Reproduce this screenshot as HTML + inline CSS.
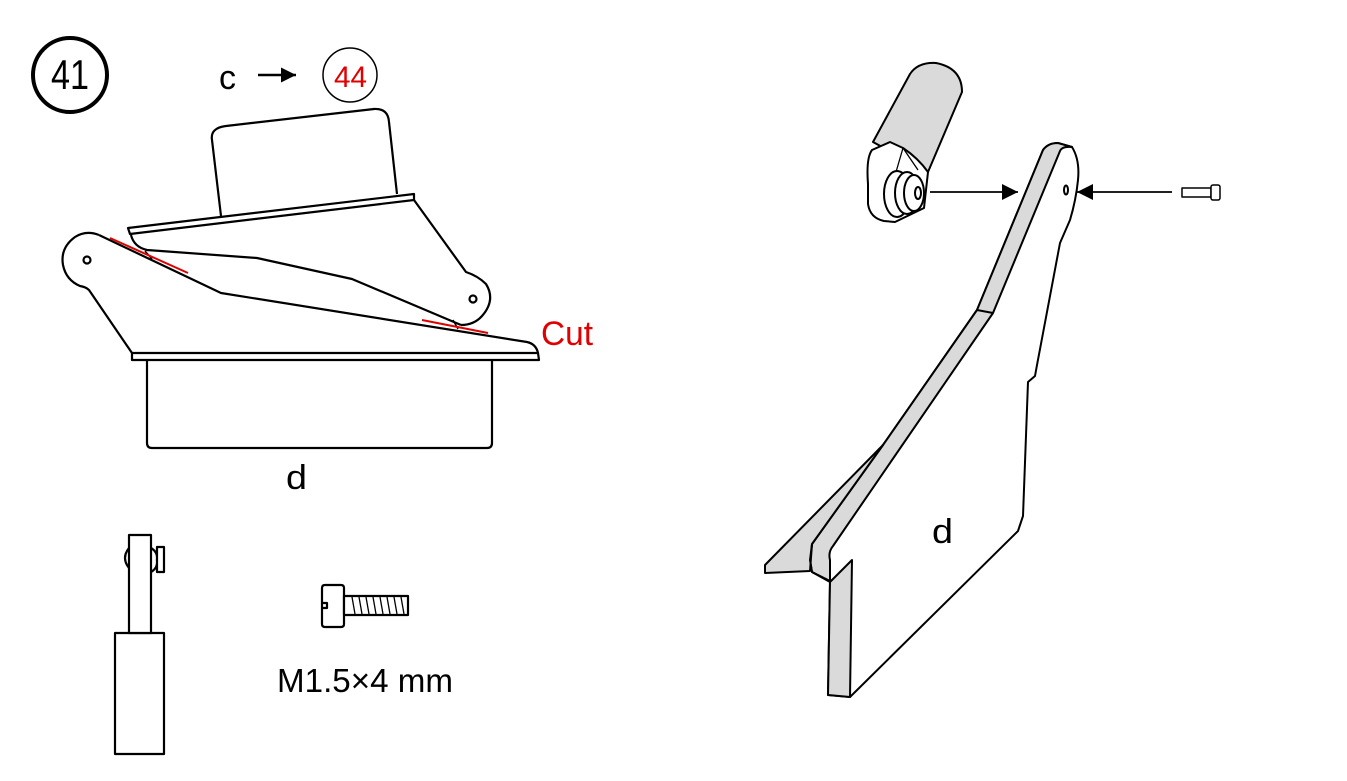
<!DOCTYPE html>
<html><head><meta charset="utf-8"><style>
html,body{margin:0;padding:0;background:#fff;}
svg{display:block;}
text{font-family:"Liberation Sans",sans-serif;}
</style></head><body>
<svg width="1347" height="781" viewBox="0 0 1347 781" xmlns="http://www.w3.org/2000/svg">
<defs>
<marker id="ah" viewBox="0 0 10 10" refX="10" refY="5" markerWidth="15" markerHeight="15" markerUnits="userSpaceOnUse" orient="auto"><path d="M0,0 L10,5 L0,10 z" fill="#000"/></marker>
<marker id="ah2" viewBox="0 0 10 10" refX="10" refY="5" markerWidth="16" markerHeight="16" markerUnits="userSpaceOnUse" orient="auto"><path d="M0,0 L10,5 L0,10 z" fill="#000"/></marker>
</defs>
<g fill="none" stroke="#000" stroke-width="2.2" stroke-linejoin="round">
<!-- header -->
<circle cx="70" cy="75" r="37" stroke-width="4"/>
<circle cx="350" cy="75" r="27" stroke-width="1.5"/>
<line x1="258" y1="75" x2="296" y2="75" marker-end="url(#ah)" stroke-width="2.5"/>

<!-- left assembly -->
<path d="M221,216 L212,140 Q210,128 226,126 L374,109 Q388,108 389,122 L397,194" fill="#fff"/>
<path d="M128,228 L414,194 L414,200 L130,234 Z" fill="#fff"/>
<path d="M414,200 L466,272 Q478,276 486,284 Q496,300 482,316 Q474,325 461,325"/>
<circle cx="473" cy="299" r="3.5"/>
<path d="M131,235 Q134,247 147,250 L257,258 L352,279 L461,325"/>
<path d="M99,235 Q86,230 75,237 Q60,248 63,265 Q66,280 80,286 Q86,287 89,290 L132,353"/>
<circle cx="87" cy="260" r="3.5"/>
<path d="M99,235 L221,293 L527,342 Q536,344 538,353"/>
<path d="M132,353 L538,353 L539,360 L132,360 Z" fill="#fff"/>
<path d="M147,360 L147,443 Q147,448 152,448 L487,448 Q492,448 492,443 L492,360"/>
<line x1="145" y1="251" x2="152" y2="259" stroke-width="1.5"/>
<line x1="453" y1="320" x2="458" y2="329" stroke-width="1.5"/>
<g stroke="#e00000" stroke-width="2">
<line x1="110" y1="238" x2="188" y2="273"/>
<line x1="422" y1="320" x2="488" y2="333"/>
</g>

<!-- servo bottom left -->
<rect x="115" y="633" width="49" height="121" fill="#fff"/>
<rect x="129" y="535" width="22" height="98" fill="#fff"/>
<path d="M129,548 Q121,558 129,568"/>
<path d="M151,548 Q158,552 157,560 Q158,568 151,572"/>
<rect x="157" y="547" width="7" height="25" fill="#fff"/>
<!-- screw -->
<path d="M325,585 L341,585 Q344,585 344,588 L344,624 Q344,627 341,627 L325,627 Q322,627 322,624 L322,588 Q322,585 325,585 Z" fill="#fff"/>
<path d="M322,603 L327,603 L327,608 L322,608"/>
<rect x="344" y="596" width="64" height="19" fill="#fff"/>
<g stroke-width="1.3">
<line x1="352" y1="597" x2="355" y2="614"/><line x1="359" y1="597" x2="362" y2="614"/><line x1="366" y1="597" x2="369" y2="614"/><line x1="373" y1="597" x2="376" y2="614"/><line x1="380" y1="597" x2="383" y2="614"/><line x1="387" y1="597" x2="390" y2="614"/><line x1="394" y1="597" x2="397" y2="614"/><line x1="401" y1="597" x2="404" y2="614"/>
</g>
</g>

<g fill="none" stroke="#000" stroke-width="2" stroke-linejoin="round">
<!-- right: cylinder -->
<path d="M873,142 L910,74 Q918,62 936,63 Q962,68 962,92 L928,172 Z" fill="#dadada"/>
<!-- horn -->
<path d="M872,150 Q866,158 868,184 L868,204 Q870,218 884,221 L895,222 L924,208 L928,172 Q918,158 903,148 L890,142 Z" fill="#fff"/>
<path d="M903,148 L896,172 M903,148 L918,170" stroke-width="1.3"/>
<ellipse cx="897" cy="194" rx="13" ry="23" fill="#fff"/>
<ellipse cx="907" cy="193" rx="12" ry="21" fill="#fff"/>
<ellipse cx="914" cy="193" rx="10" ry="18" fill="#fff"/>
<ellipse cx="918" cy="193" rx="3" ry="6" fill="#fff"/>
<line x1="930" y1="192" x2="1018" y2="192" stroke-width="1.8" marker-end="url(#ah2)"/>
<line x1="1172" y1="192" x2="1077" y2="192" stroke-width="1.8" marker-end="url(#ah2)"/>
<!-- small screw right -->
<rect x="1182" y="188" width="29" height="9" fill="#fff" stroke-width="1.5"/>
<rect x="1211" y="185" width="9" height="15" rx="2" fill="#fff" stroke-width="1.5"/>

<!-- bracket d -->
<path d="M1072,147 Q1080,160 1078,180 Q1076,200 1070,220 L1060,243 L1037,365 L1035,376 L1028,382 L1023,516 L1018,531 L850,697 L828,695 L830,581 L812,572 L810,560 L812,544 L883,445 L977,310 L1043,150 Q1048,143 1058,143 Z" fill="#fff"/>
<path d="M1043,150 Q1048,143 1058,143 L1072,147 Q1062,146 1060,151 L993,313 L833,546 Q828,552 830,560 L830,581 L812,572 L810,560 L812,544 L883,445 L977,310 Z" fill="#dadada"/>
<line x1="977" y1="310" x2="993" y2="313"/>
<ellipse cx="1066" cy="190" rx="2" ry="4.5"/>
<path d="M765,565 L883,445 L812,544 L810,571 L765,573 Z" fill="#dadada"/>
<path d="M812,544 L810,560 L812,572 L830,582" fill="none"/>
<path d="M830,582 L852,560 L850,697 L828,695 Z" fill="#dadada"/>
</g>

<!-- text -->
<text x="51" y="89" font-size="42" textLength="38" lengthAdjust="spacingAndGlyphs">41</text>
<text x="219" y="89" font-size="34" textLength="17" lengthAdjust="spacingAndGlyphs">c</text>
<text x="334" y="87" font-size="30" fill="#e00000" textLength="33" lengthAdjust="spacingAndGlyphs">44</text>
<text x="541" y="345" font-size="34" fill="#e00000" textLength="52" lengthAdjust="spacingAndGlyphs">Cut</text>
<text x="286" y="489" font-size="34" textLength="21" lengthAdjust="spacingAndGlyphs">d</text>
<text x="932" y="543" font-size="34" textLength="21" lengthAdjust="spacingAndGlyphs">d</text>
<text x="277" y="692" font-size="33" textLength="176" lengthAdjust="spacingAndGlyphs">M1.5×4 mm</text>
</svg>
</body></html>
